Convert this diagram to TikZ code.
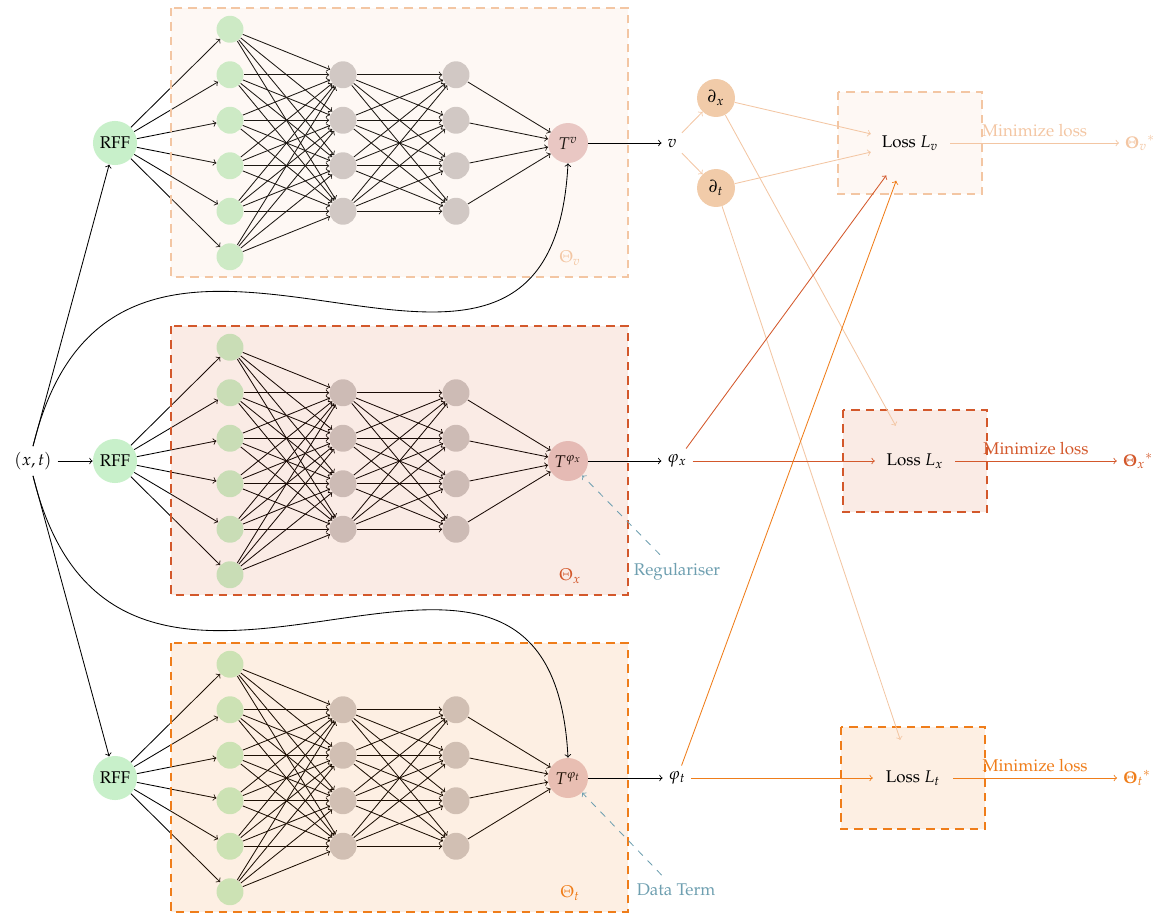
\documentclass[tikz,border=0pt]{standalone}
\usepackage[T1]{fontenc}
\usepackage{amsmath}
\usepackage{mathpazo}
\definecolor{cv}{HTML}{F3C6A3}
\definecolor{cx}{HTML}{D3582B}
\definecolor{ct}{HTML}{EF7D1A}
\definecolor{tealc}{HTML}{6E9FB0}
\definecolor{ngreen}{HTML}{C8F0CA}
\definecolor{ngray}{HTML}{CDC9C9}
\definecolor{nT}{HTML}{E8C8C8}
\definecolor{dfill}{HTML}{F1CBA9}
\tikzset{
 net/.style={->, line width=0.5pt, black},
 innode/.style={circle, fill=ngreen, minimum size=15.9pt, inner sep=0pt},
 hidnode/.style={circle, fill=ngray, minimum size=15.9pt, inner sep=0pt},
 rffnode/.style={circle, fill=ngreen, minimum size=26pt, inner sep=0pt},
 tnode/.style={circle, fill=nT, minimum size=23.6pt, inner sep=0pt},
 dnode/.style={circle, fill=dfill, minimum size=22.4pt, inner sep=0pt},
 lossnode/.style={circle, minimum size=47pt, inner sep=0pt},
 netbox/.style={dash pattern=on 5pt off 3.5pt, line width=1.1pt, fill opacity=0.12},
 lossbox/.style={dash pattern=on 5pt off 3.5pt, line width=1.3pt, fill opacity=0.12},
 lite/.style={->, line width=0.5pt},
 regarr/.style={->, tealc, line width=0.5pt, dash pattern=on 4pt off 4pt},
 reglbl/.style={text=tealc, inner ysep=5pt}
}
\begin{document}
\begin{tikzpicture}[x=0.59pt,y=-0.59pt]
\useasboundingbox (0,0) rectangle (1163,916);
% networks
\foreach \nn/\cy in {1/143,2/461,3/778} {
  \node[rffnode] (rff\nn) at (115,\cy) {RFF};
  \foreach \k in {1,...,6} \node[innode] (in\nn-\k) at (230,{\cy+(\k-3.5)*45.5}) {};
  \foreach \k in {1,...,4} {
    \node[hidnode] (ha\nn-\k) at (343,{\cy+(\k-2.5)*45.5}) {};
    \node[hidnode] (hb\nn-\k) at (456,{\cy+(\k-2.5)*45.5}) {};
  }
}
\node[tnode] (T1) at (568,143) {$T^{v}$};
\node[tnode] (T2) at (568,461) {$T^{\varphi_x}$};
\node[tnode] (T3) at (568,778) {$T^{\varphi_t}$};
\foreach \nn in {1,2,3} {
  \foreach \k in {1,...,6} {
    \draw[net] (rff\nn) -- (in\nn-\k);
    \foreach \j in {1,...,4} \draw[net] (in\nn-\k) -- (ha\nn-\j);
  }
  \foreach \k in {1,...,4} {
    \foreach \j in {1,...,4} \draw[net] (ha\nn-\k) -- (hb\nn-\j);
    \draw[net] (hb\nn-\k) -- (T\nn);
  }
}
% boxes
\draw[netbox, draw=cv, fill=cv] (171,8) rectangle (628,277);
\draw[netbox, draw=cx, fill=cx] (171,326) rectangle (628,595);
\draw[netbox, draw=ct, fill=ct] (171,643) rectangle (628,912);
\node[text=cv] (lv) at (570,258) {$\Theta_v$};
\node[text=cx] (lx) at (570,576) {$\Theta_x$};
\node[text=ct] (lt) at (570,893) {$\Theta_t$};
% loss boxes
\draw[lossbox, draw=cv, fill=cv] (838,92) rectangle (982,194);
\draw[lossbox, draw=cx, fill=cx] (843,410) rectangle (987,512);
\draw[lossbox, draw=ct, fill=ct] (841,727) rectangle (985,829);
% input
\node (xt) at (33,461) {$(x,t)$};
\draw[net] (xt) -- (rff2);
\draw[net] (xt.north) -- (rff1);
\draw[net] (xt.south) -- (rff3);
\draw[net] (xt.north) .. controls (120,90) and (550,510) .. (T1.south);
\draw[net] (xt.south) .. controls (120,832) and (550,412) .. (T3.north);
% outputs
\node (v) at (672,143) {$v$};
\node (phx) at (677,461) {$\varphi_x$};
\node (pht) at (677,778) {$\varphi_t$};
\draw[net] (T1) -- (v);
\draw[net] (T2) -- (phx);
\draw[net] (T3) -- (pht);
\node[dnode] (dx) at (716,98) {$\partial_x$};
\node[dnode] (dt) at (716,188) {$\partial_t$};
\node[lossnode] (lossv) at (910,143) {Loss $L_v$};
\node[lossnode] (lossx) at (915,461) {Loss $L_x$};
\node[lossnode] (losst) at (913,778) {Loss $L_t$};
\node[text=cv] (thv) at (1140,143) {${\boldsymbol{\Theta}_v}^{*}$};
\node[text=cx] (thx) at (1138,461) {${\boldsymbol{\Theta}_x}^{*}$};
\node[text=ct] (tht) at (1137,778) {${\boldsymbol{\Theta}_t}^{*}$};
\draw[lite, cv] (v) -- (dx);
\draw[lite, cv] (v) -- (dt);
\draw[lite, cv] (dx) -- (lossv);
\draw[lite, cv] (dt) -- (lossv);
\draw[lite, cv] (dx) -- (lossx);
\draw[lite, cv] (dt) -- (losst);
\draw[lite, cx] (phx) -- (lossx);
\draw[lite, cx] (phx) -- (lossv);
\draw[lite, ct] (pht) -- (losst);
\draw[lite, ct] (pht) -- (lossv);
\draw[lite, cv] (lossv) -- node[above, text=cv] (mv) {Minimize loss} (thv);
\draw[lite, cx] (lossx) -- node[above, text=cx] (mx) {Minimize loss} (thx);
\draw[lite, ct] (losst) -- node[above, text=ct] (mt) {Minimize loss} (tht);
% regulariser / data term
\node[reglbl] (reg) at (677,572) {Regulariser};
\node[reglbl] (dat) at (676,890) {Data Term};
\draw[regarr] (reg) -- (T2);
\draw[regarr] (dat) -- (T3);
\end{tikzpicture}
\end{document}
